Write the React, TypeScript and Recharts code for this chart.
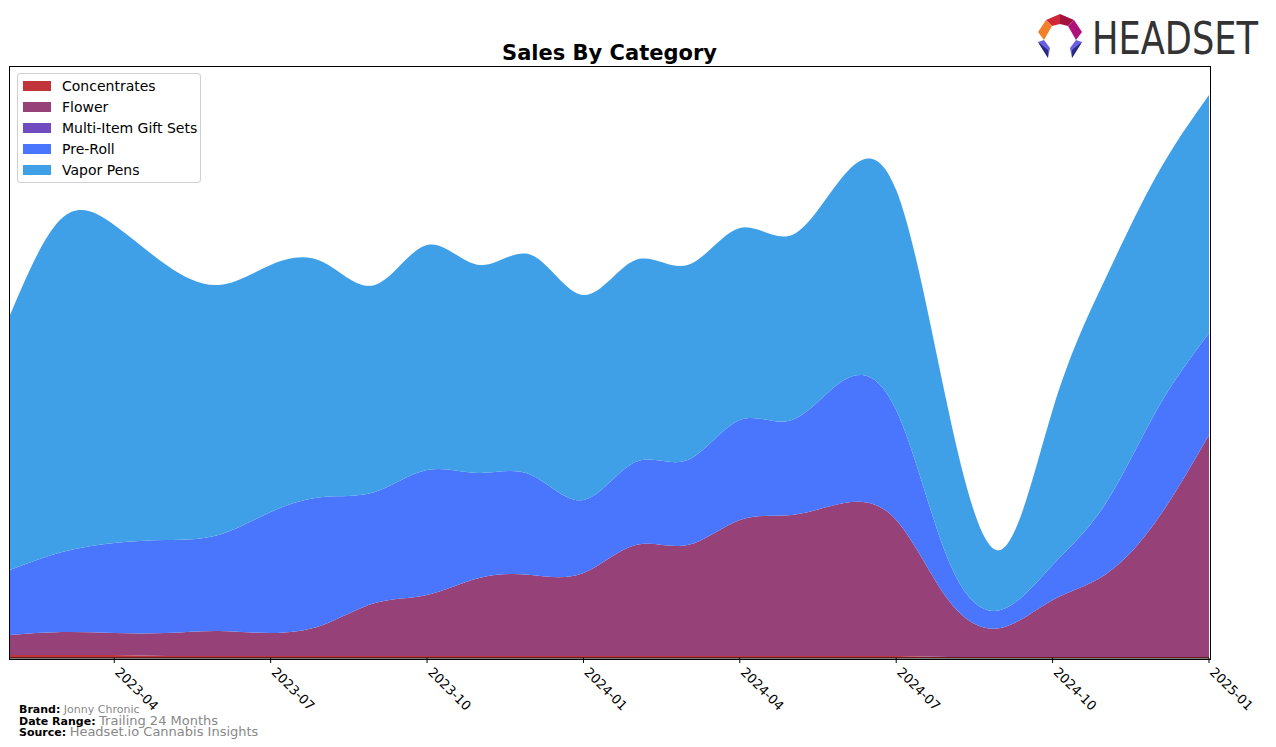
import React from "react";
import { AreaChart, Area, XAxis, YAxis } from "recharts";

// Monthly categories, 2023-02 .. 2025-01
const months = [
  "2023-02", "2023-03", "2023-04", "2023-05", "2023-06", "2023-07",
  "2023-08", "2023-09", "2023-10", "2023-11", "2023-12", "2024-01",
  "2024-02", "2024-03", "2024-04", "2024-05", "2024-06", "2024-07",
  "2024-08", "2024-09", "2024-10", "2024-11", "2024-12", "2025-01",
];

// Series values (relative sales)
const concentrates = [3, 3, 3, 2, 2, 2, 2, 2, 2, 2, 2, 2, 2, 2, 2, 2, 2, 2, 1, 1, 1, 1, 1, 1];
const flower = [20, 23, 22, 23, 25, 23, 31, 53, 61, 78, 81, 83, 111, 111, 136, 141, 153, 136, 57, 29, 57, 82, 137, 222];
const giftSets = [0, 0, 0, 0, 0, 0, 0, 0, 0, 0, 0, 0, 0, 0, 0, 0, 0, 0, 0, 0, 0, 0, 0, 0];
const preRoll = [65, 80, 90, 93, 96, 121, 128, 111, 125, 105, 100, 73, 83, 85, 100, 95, 123, 110, 40, 18, 35, 70, 110, 102];
const vaporPens = [255, 334, 318, 275, 250, 247, 235, 207, 225, 208, 220, 205, 202, 195, 192, 185, 205, 220, 150, 60, 155, 225, 235, 238];

const tickMonths = ["2023-04", "2023-07", "2023-10", "2024-01", "2024-04", "2024-07", "2024-10", "2025-01"];

const SERIES = [
  { key: "Concentrates", values: concentrates, color: "#c1343a" },
  { key: "Flower", values: flower, color: "#964278" },
  { key: "Multi-Item Gift Sets", values: giftSets, color: "#704cc0" },
  { key: "Pre-Roll", values: preRoll, color: "#4a76fe" },
  { key: "Vapor Pens", values: vaporPens, color: "#3fa0e8" },
];

const data = months.map((m, i) => {
  const row: Record<string, number | string> = { idx: i, month: m };
  SERIES.forEach(s => { row[s.key] = s.values[i]; });
  return row;
});

const PLOT = { left: 10, top: 67, right: 1209, bottom: 658 };

const MonthTick = (props: any) => {
  const { x, y, payload } = props;
  return (
    <g transform={`translate(${x + 7},${y})`}>
      <text transform="rotate(45)" x={0} y={0} dy="0.75em" textAnchor="start" fontSize={13} fill="#000">
        {months[payload.value]}
      </text>
    </g>
  );
};

function Logo() {
  return (
    <svg width={240} height={62} style={{ position: "absolute", left: 1036, top: 10 }}>
      {/* hex ring icon */}
      <g transform="translate(0,2)">
        <polygon points="10,8 24,2 24,12 16,14" fill="#d0263a" />
        <polygon points="24,2 38,8 32,14 24,12" fill="#a3123f" />
        <polygon points="38,8 46,20 40,28 32,14" fill="#b0107a" />
        <polygon points="10,8 16,14 8,28 2,20" fill="#f0802a" />
        <polygon points="2,30 8,28 14,36 12,46" fill="#6a60e0" />
        <polygon points="40,28 46,30 36,46 34,36" fill="#6a60e0" />
        <polygon points="2,30 12,46 12,38" fill="#2a2a80" />
        <polygon points="46,30 36,46 36,38" fill="#2a2a80" />
      </g>
      <text x={56} y={44} fontSize={44} fill="#333" textLength={166} lengthAdjust="spacingAndGlyphs"
        fontFamily="'DejaVu Sans Condensed', 'DejaVu Sans', sans-serif">HEADSET</text>
    </svg>
  );
}

export default function App() {
  return (
    <div style={{ position: "absolute", left: 0, top: 0, width: 1276, height: 747, background: "#fff", fontFamily: "'DejaVu Sans', sans-serif", overflow: "hidden" }}>
      <div style={{ position: "absolute", left: PLOT.left, width: PLOT.right - PLOT.left, top: 41, textAlign: "center", fontSize: 21, fontWeight: "bold" }}>
        Sales By Category
      </div>
      <Logo />
      <AreaChart width={1276} height={747} data={data}
        margin={{ top: PLOT.top, left: PLOT.left, right: 1276 - PLOT.right, bottom: 747 - PLOT.bottom - 60 }}>
        <XAxis dataKey="idx" type="number" domain={[0, 23]} ticks={tickMonths.map(t => months.indexOf(t))}
          tick={<MonthTick />} tickSize={5} tickMargin={3} height={60} interval={0}
          stroke="#000" tickLine={{ stroke: "#000" }} axisLine={{ stroke: "#000" }} allowDataOverflow />
        <YAxis hide domain={[0, 591]} allowDataOverflow />
        {SERIES.map(s => (
          <Area key={s.key} type="natural" dataKey={s.key} stackId="1" stroke="none"
            fill={s.color} fillOpacity={1} isAnimationActive={false} />
        ))}
      </AreaChart>
      {/* plot frame */}
      <div style={{ position: "absolute", left: PLOT.left - 1, top: PLOT.top - 1, width: PLOT.right - PLOT.left + 1, height: PLOT.bottom - PLOT.top + 1, border: "1px solid #000", pointerEvents: "none" }} />
      {/* legend */}
      <div style={{ position: "absolute", left: 17, top: 73, width: 182, height: 108, border: "1px solid #d0d0d0", borderRadius: 3, background: "rgba(255,255,255,0.85)" }}>
        {SERIES.map((s, i) => (
          <div key={s.key} style={{ position: "absolute", left: 5, top: 5 + i * 21, height: 14, display: "flex", alignItems: "center" }}>
            <span style={{ display: "inline-block", width: 28, height: 10, background: s.color }} />
            <span style={{ marginLeft: 11, fontSize: 14, color: "#000", whiteSpace: "nowrap" }}>{s.key}</span>
          </div>
        ))}
      </div>
      {/* footer */}
      <div style={{ position: "absolute", left: 19, top: 705, fontSize: 11, lineHeight: "10.5px", color: "#000" }}>
        <div><b>Brand:</b> <span style={{ color: "#888" }}>Jonny Chronic</span></div>
        <div><b>Date Range:</b> <span style={{ color: "#888", fontSize: 13 }}>Trailing 24 Months</span></div>
        <div><b>Source:</b> <span style={{ color: "#888", fontSize: 13 }}>Headset.io Cannabis Insights</span></div>
      </div>
    </div>
  );
}
